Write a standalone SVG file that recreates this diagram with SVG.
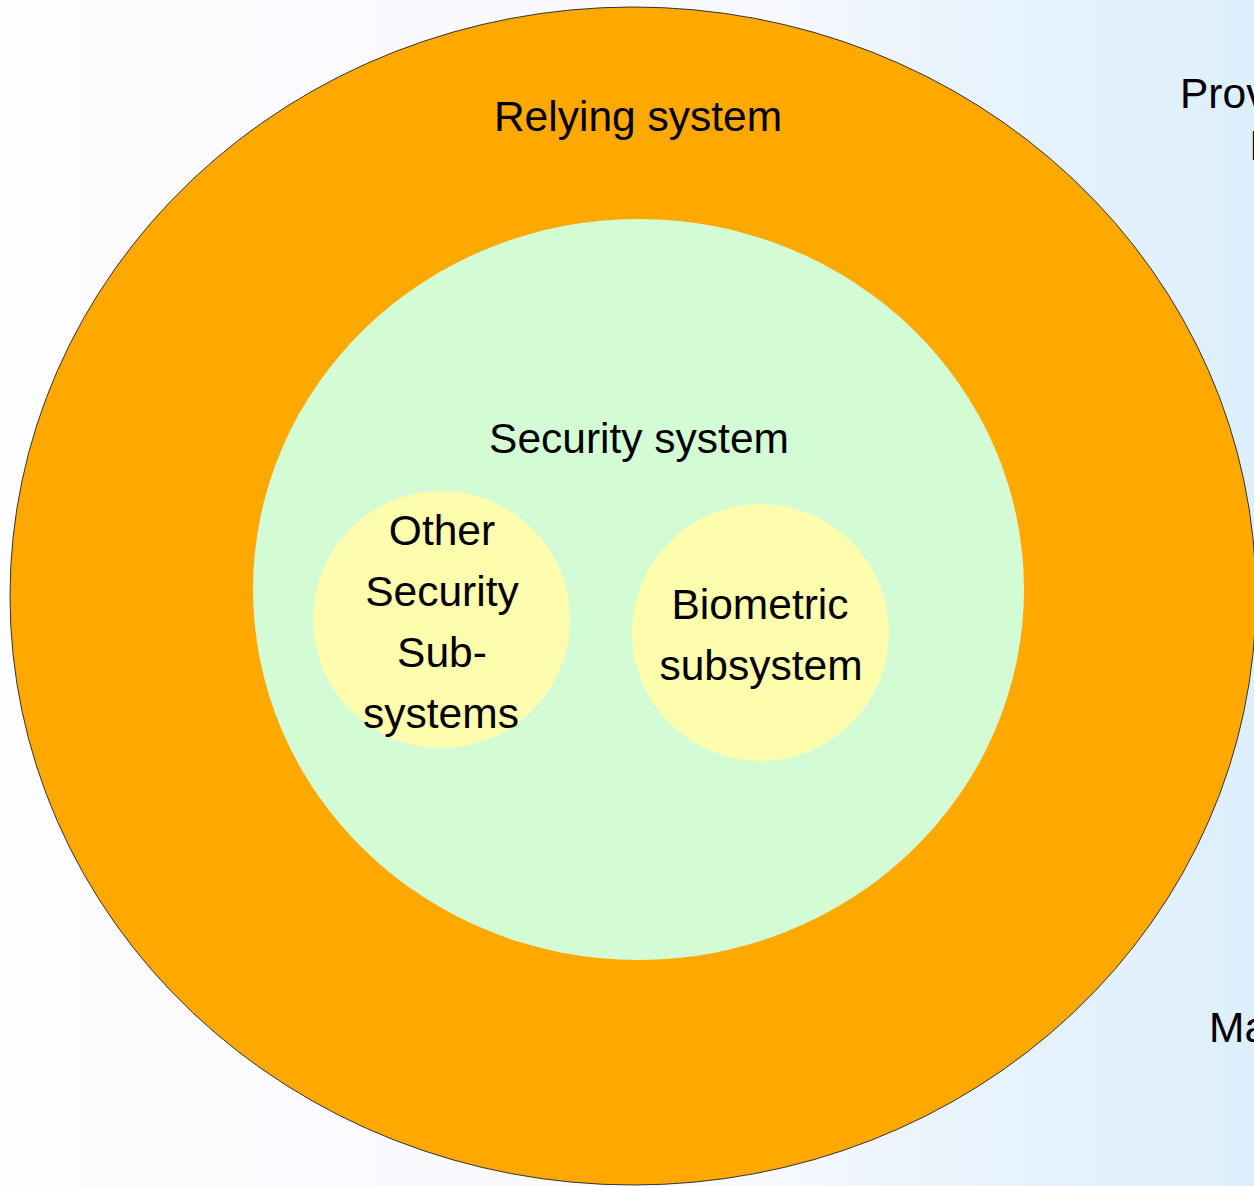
<svg xmlns="http://www.w3.org/2000/svg" width="1254" height="1186" viewBox="0 0 1254 1186">
<defs>
<linearGradient id="bg" x1="0" y1="0" x2="1" y2="0">
<stop offset="0" stop-color="#fdfcff"/>
<stop offset="0.6" stop-color="#f8f9fe"/>
<stop offset="0.75" stop-color="#eaf4fd"/>
<stop offset="1" stop-color="#ddeffc"/>
</linearGradient>
</defs>
<style>
text{font-family:"Liberation Sans",Arial,sans-serif;font-size:42.5px;fill:#000;text-anchor:middle}
.side{text-anchor:start}
</style>
<rect x="0" y="0" width="1254" height="1186" fill="url(#bg)"/>
<g id="relying">
<ellipse cx="633" cy="596" rx="623" ry="589" fill="#fea800" stroke="#333" stroke-width="1"/>
<text x="638" y="131">Relying system</text>
</g>
<g id="security">
<ellipse cx="638.5" cy="589.5" rx="385.5" ry="370.5" fill="#d4fcd4"/>
<text x="639" y="453">Security system</text>
</g>
<g id="other">
<circle cx="441.5" cy="619.5" r="128.5" fill="#fefcad"/>
<text x="442" y="545">Other</text>
<text x="442" y="606">Security</text>
<text x="442" y="667">Sub-</text>
<text x="441" y="728">systems</text>
</g>
<g id="biometric">
<circle cx="760.5" cy="632.5" r="128.5" fill="#fefcad"/>
<text x="760" y="619">Biometric</text>
<text x="761" y="680">subsystem</text>
</g>
<g id="connectors"></g>
<g id="side-labels">
<text class="side" x="1180" y="108">Prov</text>
<text class="side" x="1249" y="160">I</text>
<text class="side" x="1209" y="1042">Ma</text>
</g>
</svg>
